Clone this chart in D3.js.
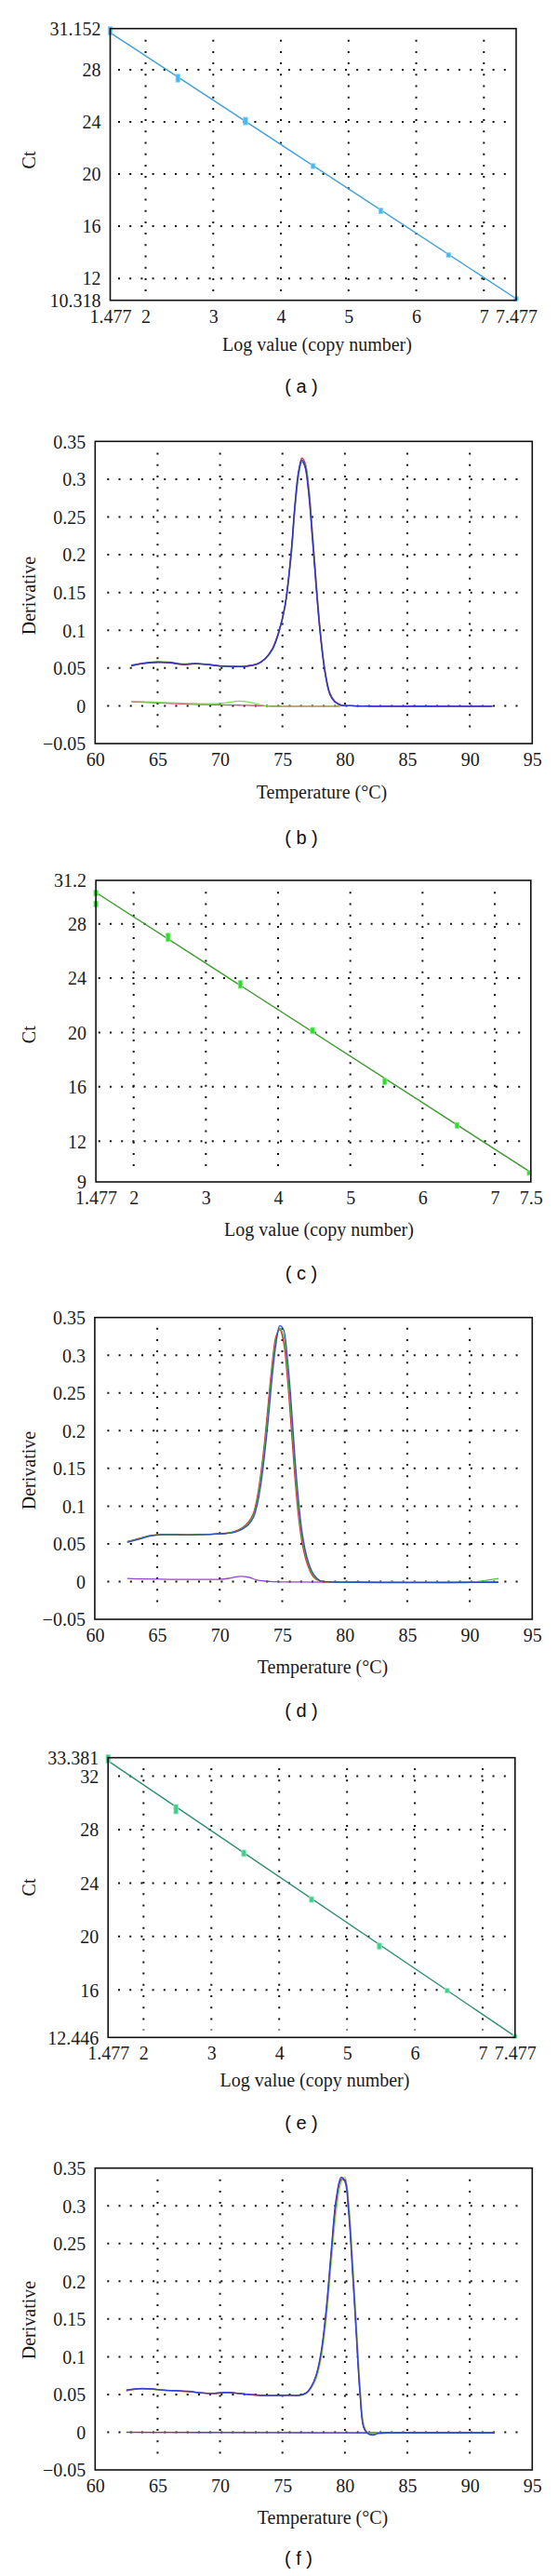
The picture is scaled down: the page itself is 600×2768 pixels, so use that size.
<!DOCTYPE html>
<html><head><meta charset="utf-8">
<script src="https://cdn.jsdelivr.net/npm/d3@7"></script>
<style>body{margin:0;background:#fff}svg{display:block}</style>
</head><body>
<svg id="chart" width="600" height="2768"></svg>
<script>
// ---------------- DATA ----------------
const logCopies = [1.477, 2.477, 3.477, 4.477, 5.477, 6.477, 7.477];

// (a) standard curve
const ctA = [30.97, 27.35, 24.06, 20.61, 17.17, 13.79, 10.44];
const ctErrA = [0.32, 0.30, 0.29, 0.19, 0.21, 0.18, 0.15];
const fitA = [30.84, 10.44];             // fitted Ct at first / last log value
const xTicksA = [1.477, 2, 3, 4, 5, 6, 7, 7.477];
const xLabelsA = ["1.477", "2", "3", "4", "5", "6", "7", "7.477"];
const yTicksA = [10.318, 12, 16, 20, 24, 28, 31.152];
const yLabelsA = ["10.318", "12", "16", "20", "24", "28", "31.152"];

// (c) standard curve
const logCopiesC = [1.477, 1.477, 2.477, 3.477, 4.477, 5.477, 6.477, 7.477];
const ctC = [30.27, 29.46, 27.0, 23.54, 20.14, 16.39, 13.16, 9.66];
const ctErrC = [0.22, 0.22, 0.31, 0.29, 0.23, 0.23, 0.22, 0.17];
const fitC = [30.31, 9.78];
const xTicksC = [1.477, 2, 3, 4, 5, 6, 7, 7.5];
const xLabelsC = ["1.477", "2", "3", "4", "5", "6", "7", "7.5"];
const yTicksC = [9, 12, 16, 20, 24, 28, 31.2];
const yLabelsC = ["9", "12", "16", "20", "24", "28", "31.2"];

// (e) standard curve
const ctE = [33.30, 29.53, 26.23, 22.77, 19.28, 15.95, 12.53];
const ctErrE = [0.31, 0.35, 0.24, 0.21, 0.23, 0.16, 0.14];
const fitE = [33.14, 12.53];
const yTicksE = [12.446, 16, 20, 24, 28, 32, 33.381];
const yLabelsE = ["12.446", "16", "20", "24", "28", "32", "33.381"];

// melt curve axes
const tempTicks = [60, 65, 70, 75, 80, 85, 90, 95];
const tempLabels = ["60", "65", "70", "75", "80", "85", "90", "95"];
const derivTicks = [-0.05, 0, 0.05, 0.1, 0.15, 0.2, 0.25, 0.3, 0.35];
const derivLabels = ["\u22120.05", "0", "0.05", "0.1", "0.15", "0.2", "0.25", "0.3", "0.35"];

// (b) melt curves
const tempB = [62.9, 64, 65, 66, 67, 68, 69, 70, 71, 72, 73, 73.6, 74.2, 74.7, 75.2, 75.7, 76.0, 76.3, 76.55, 76.8, 77.1, 77.4, 77.7, 78.0, 78.4, 78.8, 79.2, 79.7, 80.5, 82, 84, 86, 88, 90, 91.8];
const derivB_red = [0.0535, 0.0562, 0.058, 0.0568, 0.0545, 0.0555, 0.0548, 0.053, 0.0522, 0.0525, 0.0558, 0.0625, 0.076, 0.098, 0.131, 0.200, 0.262, 0.308, 0.328, 0.322, 0.290, 0.230, 0.165, 0.105, 0.048, 0.017, 0.006, 0.001, 0, -0.0003, -0.0004, -0.0004, -0.0004, -0.0004, -0.0004];
const derivB_green = [0.0528, 0.057, 0.0585, 0.0578, 0.0555, 0.0562, 0.055, 0.0525, 0.0518, 0.052, 0.0552, 0.0618, 0.074, 0.096, 0.130, 0.198, 0.260, 0.305, 0.322, 0.320, 0.288, 0.228, 0.162, 0.103, 0.047, 0.016, 0.0055, 0.001, 0, -0.0005, -0.0005, -0.0005, -0.0005, -0.0005, -0.0005];
const derivB_purple = [0.054, 0.0568, 0.0578, 0.057, 0.055, 0.056, 0.0546, 0.0528, 0.0521, 0.0523, 0.0556, 0.0622, 0.0755, 0.0975, 0.132, 0.203, 0.265, 0.310, 0.324, 0.316, 0.280, 0.220, 0.156, 0.099, 0.044, 0.015, 0.005, 0.0008, 0, -0.0004, -0.0005, -0.0004, -0.0005, -0.0005, -0.0005];
const derivB_blue = [0.053, 0.0565, 0.0575, 0.0572, 0.0548, 0.0558, 0.0545, 0.0527, 0.052, 0.0522, 0.0555, 0.062, 0.075, 0.097, 0.133, 0.205, 0.268, 0.312, 0.326, 0.318, 0.283, 0.222, 0.158, 0.100, 0.045, 0.015, 0.005, 0.0008, 0, -0.0004, -0.0005, -0.0004, -0.0005, -0.0005, -0.0005];
const tempFlatB = [62.9, 64, 65, 66, 67, 68, 69, 70, 70.8, 71.5, 72.2, 73, 74, 76, 78, 79.6];
const derivB_ntcGreen = [0.006, 0.0054, 0.0047, 0.004, 0.0034, 0.003, 0.0027, 0.003, 0.0048, 0.0062, 0.0052, 0.0022, -0.0005, -0.0008, -0.0008, -0.0008];
const derivB_ntcRed = [0.0052, 0.0046, 0.004, 0.0033, 0.0026, 0.002, 0.0016, 0.0012, 0.001, 0.0008, 0.0006, 0.0002, -0.0004, -0.0006, -0.0006, -0.0006];

// (d) melt curves
const tempD = [62.6, 63.5, 64.5, 65.5, 66.5, 67.5, 68.5, 69.5, 70.5, 71.2, 71.8, 72.3, 72.7, 73.0, 73.3, 73.6, 73.9, 74.2, 74.5, 74.8, 75.1, 75.4, 75.7, 76.0, 76.3, 76.6, 77.0, 77.5, 78.0, 79, 81, 84, 87, 90, 92.3];
const derivD_orange = [0.0527, 0.0566, 0.0609, 0.0624, 0.0621, 0.0619, 0.0624, 0.063, 0.064, 0.0662, 0.0708, 0.078, 0.089, 0.109, 0.140, 0.183, 0.234, 0.285, 0.322, 0.335, 0.322, 0.280, 0.218, 0.150, 0.094, 0.055, 0.026, 0.007, 0.001, -0.0005, -0.001, -0.001, -0.001, -0.001, -0.001];
const derivD_red = [0.053, 0.057, 0.0612, 0.0627, 0.0623, 0.0621, 0.0626, 0.0631, 0.0642, 0.0665, 0.0715, 0.079, 0.091, 0.112, 0.145, 0.188, 0.240, 0.290, 0.325, 0.334, 0.318, 0.272, 0.208, 0.140, 0.086, 0.050, 0.023, 0.006, 0.0008, -0.0005, -0.001, -0.0012, -0.0012, -0.001, -0.001];
const derivD_green = [0.0525, 0.0565, 0.061, 0.0625, 0.0622, 0.062, 0.0625, 0.063, 0.064, 0.066, 0.0705, 0.077, 0.088, 0.107, 0.138, 0.180, 0.230, 0.282, 0.320, 0.336, 0.326, 0.285, 0.225, 0.155, 0.098, 0.058, 0.028, 0.008, 0.001, -0.0005, -0.001, -0.001, -0.0012, -0.001, 0.004];
const derivD_blue = [0.052, 0.056, 0.0605, 0.062, 0.062, 0.0618, 0.0622, 0.0628, 0.0638, 0.0655, 0.0695, 0.0755, 0.085, 0.102, 0.130, 0.170, 0.218, 0.272, 0.315, 0.339, 0.334, 0.298, 0.240, 0.168, 0.108, 0.064, 0.031, 0.010, 0.0015, -0.0005, -0.001, -0.0015, -0.0015, -0.0012, -0.001];
const tempFlatD = [62.6, 64, 66, 68, 70, 70.8, 71.6, 72.3, 73, 74, 76, 80, 84, 88, 92.3];
const derivD_ntcPurple = [0.004, 0.0034, 0.003, 0.003, 0.003, 0.0045, 0.0068, 0.0058, 0.002, 0.0002, -0.0005, -0.0008, -0.001, -0.001, -0.001];

// (f) melt curves
const tempF = [62.5, 63.5, 64.5, 65.5, 66.5, 67.5, 68.5, 69.5, 70.5, 71.5, 72.5, 73.5, 74.5, 75.5, 76.3, 76.9, 77.3, 77.7, 78.1, 78.5, 78.9, 79.3, 79.7, 80.0, 80.3, 80.6, 80.9, 81.2, 81.5, 81.8, 82.2, 82.7, 84, 87, 90, 92.0];
const derivF_red = [0.0548, 0.0575, 0.0572, 0.0555, 0.0546, 0.0535, 0.0521, 0.0514, 0.0527, 0.0514, 0.0496, 0.0485, 0.0486, 0.049, 0.0486, 0.0516, 0.0595, 0.074, 0.103, 0.156, 0.232, 0.302, 0.334, 0.333, 0.298, 0.224, 0.140, 0.058, 0.008, -0.001, -0.003, -0.0012, -0.001, -0.001, -0.001, -0.001];
const derivF_green = [0.0552, 0.0572, 0.0568, 0.0552, 0.0548, 0.0538, 0.052, 0.0512, 0.0526, 0.0512, 0.0494, 0.0483, 0.0484, 0.0487, 0.0482, 0.051, 0.058, 0.071, 0.098, 0.148, 0.222, 0.292, 0.331, 0.338, 0.305, 0.234, 0.150, 0.066, 0.011, 0.0, -0.002, -0.001, -0.001, -0.001, -0.001, -0.001];
const derivF_purple = [0.0555, 0.0576, 0.0573, 0.0556, 0.055, 0.054, 0.052, 0.0513, 0.0527, 0.0513, 0.0497, 0.0486, 0.0487, 0.049, 0.0487, 0.0518, 0.060, 0.075, 0.105, 0.160, 0.236, 0.306, 0.336, 0.334, 0.296, 0.220, 0.136, 0.055, 0.007, -0.001, -0.0035, -0.0014, -0.001, -0.001, -0.001, -0.001];
const derivF_blue = [0.0558, 0.0578, 0.0575, 0.0558, 0.0552, 0.0542, 0.0522, 0.0515, 0.0528, 0.0515, 0.0498, 0.0487, 0.0488, 0.0492, 0.0489, 0.0522, 0.0605, 0.076, 0.107, 0.163, 0.240, 0.310, 0.338, 0.332, 0.290, 0.214, 0.132, 0.052, 0.006, -0.0015, -0.004, -0.0015, -0.001, -0.001, -0.001, -0.001];
const tempFlatF = [62.5, 66, 70, 74, 78, 82, 86, 90, 92.0];
const derivF_ntcBlue = [-0.0002, -0.0003, -0.0004, -0.0006, -0.0008, -0.001, -0.001, -0.001, -0.0012];
const derivF_ntcRed = [0.0, -0.0002, -0.0003, -0.0005, -0.0007, -0.0009, -0.001, -0.001, -0.001];

// ---------------- DRAWING ----------------
const svg = d3.select("#chart");
const SERIF = "'Liberation Serif','Times New Roman',serif";
const SANS = "'Liberation Sans',Arial,sans-serif";

function panel(cfg) {
  const g = svg.append("g");
  const x = d3.scaleLinear().domain(cfg.xDomain).range([cfg.L, cfg.R]);
  const y = d3.scaleLinear().domain(cfg.yDomain).range([cfg.B, cfg.T]);

  // dotted grid
  g.append("g").selectAll("line").data(cfg.xGrid).join("line")
    .attr("x1", d => x(d)).attr("x2", d => x(d))
    .attr("y1", cfg.T + cfg.gy[0]).attr("y2", cfg.B - cfg.gy[1])
    .attr("stroke", "#111").attr("stroke-width", 2).attr("stroke-dasharray", "2,10.2");
  g.append("g").selectAll("line").data(cfg.yGrid).join("line")
    .attr("y1", d => y(d)).attr("y2", d => y(d))
    .attr("x1", cfg.L + cfg.gx[0]).attr("x2", cfg.R - cfg.gx[1])
    .attr("stroke", "#111").attr("stroke-width", 2).attr("stroke-dasharray", "2,10.2");

  // axes (labels only)
  const xa = g.append("g").attr("transform", `translate(0,${cfg.B})`)
    .call(d3.axisBottom(x).tickValues(cfg.xTicks).tickFormat((d, i) => cfg.xLabels[i]).tickSize(0));
  xa.select(".domain").remove();
  xa.attr("font-family", SERIF).attr("font-size", 20);
  xa.selectAll("text").attr("y", 24).attr("dy", null).attr("fill", "#1a1a1a");

  const ya = g.append("g").attr("transform", `translate(${cfg.L},0)`)
    .call(d3.axisLeft(y).tickValues(cfg.yTicks).tickFormat((d, i) => cfg.yLabels[i]).tickSize(0));
  ya.select(".domain").remove();
  ya.attr("font-family", SERIF).attr("font-size", 20);
  ya.selectAll("text").attr("x", -10).attr("dy", "0.34em").attr("fill", "#1a1a1a");

  // data
  cfg.draw(g, x, y);

  // frame
  g.append("rect").attr("x", cfg.L).attr("y", cfg.T)
    .attr("width", cfg.R - cfg.L).attr("height", cfg.B - cfg.T)
    .attr("fill", "none").attr("stroke", "#111").attr("stroke-width", 1.6);

  // titles
  g.append("text").attr("x", cfg.titleX).attr("y", cfg.titleY)
    .attr("text-anchor", "middle").attr("font-family", SERIF).attr("font-size", 20)
    .attr("fill", "#1a1a1a").text(cfg.xTitle);
  g.append("text").attr("transform", `translate(38,${cfg.yTitleY}) rotate(-90)`)
    .attr("text-anchor", "middle").attr("font-family", SERIF).attr("font-size", 20)
    .attr("fill", "#1a1a1a").text(cfg.yTitle);
  g.append("text").attr("x", cfg.capX).attr("y", cfg.capY)
    .attr("text-anchor", "middle").attr("font-family", SANS).attr("font-size", 20)
    .attr("fill", "#111").attr("xml:space", "preserve").style("white-space", "pre").text(cfg.caption);
}

function standardCurve(xs, ys, errs, fit, lineColor, markFill, markEdge) {
  return (g, x, y) => {
    const pts = [{x: logCopies[0], y: fit[0]}, {x: logCopies[logCopies.length - 1], y: fit[1]}];
    g.append("path").datum(pts)
      .attr("d", d3.line().x(d => x(d.x)).y(d => y(d.y)))
      .attr("fill", "none").attr("stroke", lineColor).attr("stroke-width", 1.4);
    const marks = xs.map((v, i) => ({x: v, y: ys[i], e: errs[i]}));
    g.append("g").selectAll("rect").data(marks).join("rect")
      .attr("x", d => x(d.x) - 2.2).attr("width", 4.4)
      .attr("y", d => y(d.y + d.e)).attr("height", d => y(d.y - d.e) - y(d.y + d.e))
      .attr("fill", markFill).attr("stroke", markEdge).attr("stroke-width", 0.8);
  };
}

function meltCurves(series) {
  return (g, x, y) => {
    const line = d3.line().x(d => x(d[0])).y(d => y(d[1])).curve(d3.curveCatmullRom.alpha(0.5));
    series.forEach(s => {
      const pts = s.t.map((t, i) => [t, s.v[i]]);
      g.append("path").datum(pts).attr("d", line)
        .attr("fill", "none").attr("stroke", s.c).attr("stroke-width", 1.3)
        .attr("stroke-linejoin", "round").attr("opacity", 0.95);
    });
  };
}

const derivGridX = [65, 70, 75, 80, 85, 90];
const derivGridY = [0, 0.05, 0.1, 0.15, 0.2, 0.25, 0.3];

// (a)
panel({
  L: 118.5, R: 555, T: 30.7, B: 322.7, gx: [8.5, 10.8], gy: [12, 7.7],
  xDomain: [1.477, 7.477], yDomain: [10.318, 31.152],
  xTicks: xTicksA, xLabels: xLabelsA, yTicks: yTicksA, yLabels: yLabelsA,
  xGrid: [2, 3, 4, 5, 6, 7], yGrid: [12, 16, 20, 24, 28],
  xTitle: "Log value (copy number)", yTitle: "Ct",
  titleX: 341, titleY: 377, yTitleY: 172, capX: 324, capY: 422, caption: "( a )",
  draw: standardCurve(logCopies, ctA, ctErrA, fitA, "#3e9fdc", "#45b9f2", "#8fd3f7")
});

// (b)
panel({
  L: 102.3, R: 572.3, T: 474.3, B: 799, gx: [13, 10.8], gy: [12.3, 12.3],
  xDomain: [60, 95], yDomain: [-0.05, 0.35],
  xTicks: tempTicks, xLabels: tempLabels, yTicks: derivTicks, yLabels: derivLabels,
  xGrid: derivGridX, yGrid: derivGridY,
  xTitle: "Temperature (\u00B0C)", yTitle: "Derivative",
  titleX: 346, titleY: 858, yTitleY: 640, capX: 324, capY: 907, caption: "( b )",
  draw: meltCurves([
    {t: tempFlatB, v: derivB_ntcRed, c: "#d8406a"},
    {t: tempFlatB, v: derivB_ntcGreen, c: "#72dd4a"},
    {t: tempB, v: derivB_red, c: "#d62a2a"},
    {t: tempB, v: derivB_green, c: "#3cc23c"},
    {t: tempB, v: derivB_purple, c: "#8a2fc0"},
    {t: tempB, v: derivB_blue, c: "#2a35c8"}
  ])
});

// (c)
panel({
  L: 103.1, R: 570.8, T: 946, B: 1270, gx: [2.7, 1.5], gy: [12.3, 10],
  xDomain: [1.477, 7.5], yDomain: [9, 31.2],
  xTicks: xTicksC, xLabels: xLabelsC, yTicks: yTicksC, yLabels: yLabelsC,
  xGrid: [2, 3, 4, 5, 6, 7], yGrid: [12, 16, 20, 24, 28],
  xTitle: "Log value (copy number)", yTitle: "Ct",
  titleX: 343, titleY: 1328, yTitleY: 1111.7, capX: 324, capY: 1375, caption: "( c )",
  draw: standardCurve(logCopiesC, ctC, ctErrC, fitC, "#3a9a2c", "#2ddc2d", "#8ef08e")
});

// (d)
panel({
  L: 101.9, R: 572.3, T: 1415.7, B: 1740, gx: [13.5, 10.8], gy: [11, 13.3],
  xDomain: [60, 95], yDomain: [-0.05, 0.35],
  xTicks: tempTicks, xLabels: tempLabels, yTicks: derivTicks, yLabels: derivLabels,
  xGrid: derivGridX, yGrid: derivGridY,
  xTitle: "Temperature (\u00B0C)", yTitle: "Derivative",
  titleX: 347, titleY: 1798.3, yTitleY: 1580, capX: 324, capY: 1845, caption: "( d )",
  draw: meltCurves([
    {t: tempFlatD, v: derivD_ntcPurple, c: "#8a3cd0"},
    {t: tempD, v: derivD_orange, c: "#e0a030"},
    {t: tempD, v: derivD_red, c: "#d62a2a"},
    {t: tempD, v: derivD_green, c: "#3cc23c"},
    {t: tempD, v: derivD_blue, c: "#2a45d0"}
  ])
});

// (e)
panel({
  L: 116.2, R: 553.8, T: 1888.7, B: 2189.3, gx: [10.8, 2], gy: [11.3, 7.7],
  xDomain: [1.477, 7.477], yDomain: [12.446, 33.381],
  xTicks: xTicksA, xLabels: xLabelsA, yTicks: yTicksE, yLabels: yLabelsE,
  xGrid: [2, 3, 4, 5, 6, 7], yGrid: [16, 20, 24, 28, 32],
  xTitle: "Log value (copy number)", yTitle: "Ct",
  titleX: 338.5, titleY: 2241.7, yTitleY: 2028, capX: 324, capY: 2288, caption: "( e )",
  draw: standardCurve(logCopies, ctE, ctErrE, fitE, "#2e8e6c", "#3ccf8a", "#92e6bd")
});

// (f)
panel({
  L: 102.3, R: 572.3, T: 2329.7, B: 2654, gx: [13, 12.7], gy: [12, 12.3],
  xDomain: [60, 95], yDomain: [-0.05, 0.35],
  xTicks: tempTicks, xLabels: tempLabels, yTicks: derivTicks, yLabels: derivLabels,
  xGrid: derivGridX, yGrid: derivGridY,
  xTitle: "Temperature (\u00B0C)", yTitle: "Derivative",
  titleX: 347, titleY: 2711.7, yTitleY: 2493, capX: 321, capY: 2756, caption: "( f )",
  draw: meltCurves([
    {t: tempFlatF, v: derivF_ntcRed, c: "#d8406a"},
    {t: tempFlatF, v: derivF_ntcBlue, c: "#3a4ad8"},
    {t: tempF, v: derivF_red, c: "#d62a2a"},
    {t: tempF, v: derivF_green, c: "#8ad83c"},
    {t: tempF, v: derivF_purple, c: "#8a2fc0"},
    {t: tempF, v: derivF_blue, c: "#2a45d0"}
  ])
});
</script>
</body></html>
